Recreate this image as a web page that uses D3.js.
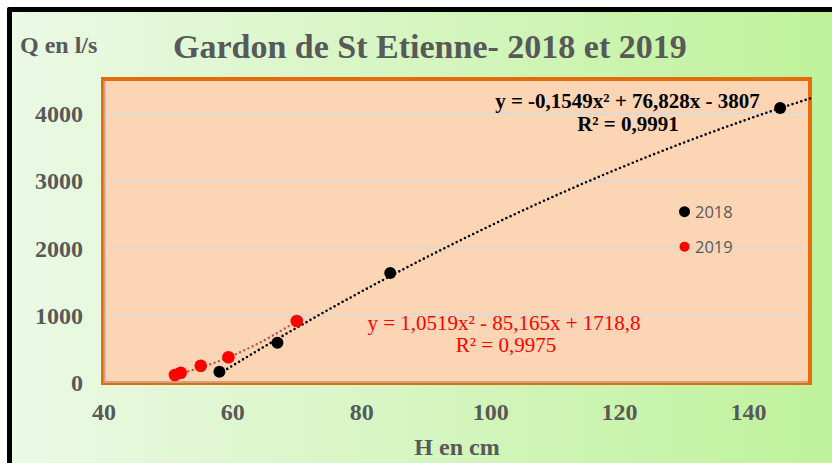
<!DOCTYPE html>
<html><head><meta charset="utf-8">
<script src="https://cdn.jsdelivr.net/npm/d3@7"></script>
<style>html,body{margin:0;padding:0;background:#fff;}svg{display:block;}</style>
</head><body>
<script>
// Data
const h2018 = [58, 67, 84.5, 145];
const q2018 = [158, 589, 1625, 4080];
const h2019 = [51.1, 52.0, 55.1, 59.4, 70.0];
const q2019 = [109, 143, 247, 372, 912];
const trend2018 = [-0.1549, 76.828, -3807]; // a, b, c
const trend2019 = [1.0519, -85.165, 1718.8];
const xTicks = [40, 60, 80, 100, 120, 140];
const yTicks = [0, 1000, 2000, 3000, 4000];
const seriesNames = ["2018", "2019"];
const title = "Gardon de St Etienne- 2018 et 2019";
const eq2018 = "y = -0,1549x² + 76,828x - 3807";
const r2018 = "R² = 0,9991";
const eq2019 = "y = 1,0519x² - 85,165x + 1718,8";
const r2019 = "R² = 0,9975";

const W = 832, H = 463;
const svg = d3.select("body").append("svg").attr("width", W).attr("height", H);
const defs = svg.append("defs");
const g = defs.append("linearGradient").attr("id", "bg").attr("x1", "0").attr("x2", "1").attr("y1", "0").attr("y2", "0");
g.append("stop").attr("offset", "0").attr("stop-color", "#ebf9e5");
g.append("stop").attr("offset", "1").attr("stop-color", "#bff29b");

// outer black frame + gradient
svg.append("rect").attr("x", 7).attr("y", 7).attr("width", W).attr("height", H).attr("rx", 2).attr("fill", "#000");
svg.append("rect").attr("x", 12).attr("y", 12).attr("width", W - 12).attr("height", H - 12).attr("fill", "url(#bg)");

const x = d3.scaleLinear().domain([40, 150]).range([103.4, 812.4]);
const y = d3.scaleLinear().domain([0, 4500]).range([382.3, 79.7]);

// plot area frame
svg.append("rect").attr("x", 101).attr("y", 77).attr("width", 711).attr("height", 308).attr("fill", "#e46c0a");
svg.append("rect").attr("x", 103.5).attr("y", 81).attr("width", 704.5).attr("height", 302).attr("fill", "#c9a58c");
svg.append("rect").attr("x", 105.5).attr("y", 81).attr("width", 702.5).attr("height", 300).attr("fill", "#fcd5b5");

// gridlines
svg.append("g").selectAll("line").data(yTicks.filter(d => d > 0)).join("line")
  .attr("x1", 105.5).attr("x2", 808).attr("y1", d => y(d)).attr("y2", d => y(d))
  .attr("stroke", "#d9d9d9").attr("stroke-width", 1.5);

const font = "'Liberation Serif','Times New Roman',serif";
const gray = "#595959";

// axes via d3
const xAxis = svg.append("g").attr("transform", "translate(0,402)")
  .call(d3.axisBottom(x).tickValues(xTicks).tickFormat(d3.format("d")).tickSize(0).tickPadding(0));
xAxis.select(".domain").remove();
xAxis.selectAll("text").attr("font-family", font).attr("font-weight", "bold").attr("font-size", 24)
  .attr("fill", gray).attr("dy", "0.76em");

const yAxis = svg.append("g").attr("transform", "translate(83,0)")
  .call(d3.axisLeft(y).tickValues(yTicks).tickFormat(d3.format("d")).tickSize(0).tickPadding(0));
yAxis.select(".domain").remove();
yAxis.selectAll("text").attr("font-family", font).attr("font-weight", "bold").attr("font-size", 24)
  .attr("fill", gray).attr("dy", "0.35em");

// trendlines
function quad(c) { return v => c[0] * v * v + c[1] * v + c[2]; }
const f18 = quad(trend2018), f19 = quad(trend2019);
const line = d3.line().x(d => x(d[0])).y(d => y(d[1]));
const xs18 = d3.range(h2018[0], 150.01, 0.5).map(v => [v, f18(v)]);
const xs19 = d3.range(h2019[0], h2019[h2019.length - 1] + 0.01, 0.25).map(v => [v, f19(v)]);
svg.append("path").attr("d", line(xs19)).attr("fill", "none").attr("stroke", "#c0504d")
  .attr("stroke-width", 2.4).attr("stroke-linecap", "round").attr("stroke-dasharray", "0 4.6");
svg.append("path").attr("d", line(xs18)).attr("fill", "none").attr("stroke", "#000")
  .attr("stroke-width", 2.6).attr("stroke-linecap", "round").attr("stroke-dasharray", "0 4.6");

// points
svg.append("g").selectAll("circle").data(h2019.map((h, i) => [h, q2019[i]])).join("circle")
  .attr("cx", d => x(d[0])).attr("cy", d => y(d[1])).attr("r", 6.3).attr("fill", "#ff0000");
svg.append("g").selectAll("circle").data(h2018.map((h, i) => [h, q2018[i]])).join("circle")
  .attr("cx", d => x(d[0])).attr("cy", d => y(d[1])).attr("r", 6).attr("fill", "#000");

// titles
svg.append("text").attr("x", 173).attr("y", 58).attr("font-family", font).attr("font-weight", "bold")
  .attr("font-size", 34).attr("fill", gray).text(title);
svg.append("text").attr("x", 20).attr("y", 53).attr("font-family", font).attr("font-weight", "bold")
  .attr("font-size", 24).attr("fill", gray).text("Q en l/s");
svg.append("text").attr("x", 457).attr("y", 455).attr("text-anchor", "middle").attr("font-family", font)
  .attr("font-weight", "bold").attr("font-size", 24).attr("fill", gray).text("H en cm");

// equations
function txt(s, cx, by, color, bold) {
  svg.append("text").attr("x", cx).attr("y", by).attr("text-anchor", "middle")
    .attr("font-family", font).attr("font-size", 21).attr("fill", color)
    .attr("font-weight", bold ? "bold" : "normal").text(s);
}
txt(eq2018, 627.5, 108, "#000", true);
txt(r2018, 628, 130.5, "#000", true);
txt(eq2019, 504, 330, "#ff0000", false);
txt(r2019, 506, 352, "#ff0000", false);

// legend
const leg = [[211.7, "#000"], [246.7, "#ff0000"]];
leg.forEach((l, i) => {
  svg.append("circle").attr("cx", 684.5).attr("cy", l[0]).attr("r", i === 0 ? 5.5 : 5).attr("fill", l[1]);
  svg.append("text").attr("x", 695).attr("y", l[0] + 6).attr("font-family", "'Open Sans','Liberation Sans',sans-serif")
    .attr("font-size", 16.5).attr("fill", gray).text(seriesNames[i]);
});
</script>
</body></html>
